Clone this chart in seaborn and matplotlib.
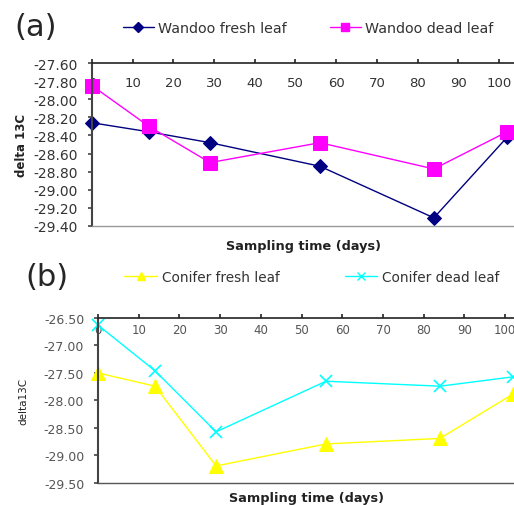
#!/usr/bin/env python3
# delta13c_panels.py

import logging
import os
os.environ.setdefault("MPLCONFIGDIR", "/tmp/.config/matplotlib")
os.makedirs(os.environ["MPLCONFIGDIR"], exist_ok=True)
import matplotlib

matplotlib.use("Agg")
logging.getLogger("matplotlib.font_manager").setLevel(logging.ERROR)

import matplotlib.pyplot as plt
import seaborn as sns
from matplotlib.lines import Line2D
from matplotlib.ticker import FormatStrFormatter, MultipleLocator

sns.set_theme(style="white")
plt.rcParams["font.family"] = ["DejaVu Sans"]

# sampling days
days = [0, 14, 29, 56, 84, 102]

# (a) wandoo
wandoo_fresh = [-28.26, -28.36, -28.48, -28.74, -29.31, -28.42]
wandoo_dead = [-27.85, -28.30, -28.70, -28.48, -28.77, -28.36]

# (b) conifer
conifer_fresh = [-27.50, -27.74, -29.19, -28.79, -28.69, -27.88]
conifer_dead = [-26.63, -27.46, -28.57, -27.65, -27.74, -27.57]


def style_axis(ax, ylim, ystep, xmax, tick_color, xpad, xsize, ysize, ypad):
    ax.set_xlim(0, xmax)
    ax.set_ylim(*ylim)
    ax.yaxis.set_major_locator(MultipleLocator(ystep))
    ax.yaxis.set_major_formatter(FormatStrFormatter("%.2f"))
    ax.set_xticks(range(0, 101, 10))
    ax.xaxis.set_ticks_position("top")
    ax.tick_params(axis="x", direction="out", length=3, width=1.2, color="#222222",
                   top=True, bottom=False, labeltop=True, labelbottom=False,
                   pad=xpad, labelsize=xsize, labelcolor=tick_color)
    ax.tick_params(axis="y", direction="out", length=3, width=1.2, color="#444444",
                   left=True, labelsize=ysize, labelcolor=tick_color, pad=ypad)
    ax.spines["right"].set_visible(False)
    ax.spines["left"].set_color("#444444")
    ax.spines["left"].set_linewidth(1.5)
    ax.spines["top"].set_color("#222222")
    ax.spines["top"].set_linewidth(1.2)
    ax.spines["bottom"].set_color("#999999")
    ax.spines["bottom"].set_linewidth(1)
    ax.grid(False)
    ax.set_facecolor("white")
    ax.set_xlabel("")


fig = plt.figure(figsize=(5.14, 5.06), dpi=100)

# ---- panel (a)
ax1 = fig.add_axes([0.179, 0.5514, 0.821, 0.3221])
sns.lineplot(x=days, y=wandoo_fresh, ax=ax1, color="#000080", lw=1, marker="D",
             markersize=7, markeredgecolor="#000080", clip_on=False)
sns.lineplot(x=days, y=wandoo_dead, ax=ax1, color="#FF00FF", lw=1, marker="s",
             markersize=10, markeredgecolor="#FF00FF", clip_on=False)
style_axis(ax1, (-29.40, -27.60), 0.2, 103.7, "#333333", -22, 9.5, 10, 7)
ax1.set_ylabel("delta 13C", fontsize=8.5, fontweight="bold", color="#222222")
ax1.yaxis.set_label_coords(-0.152, 0.5)
ax1.text(0.5, -0.117, "Sampling time (days)", transform=ax1.transAxes,
         ha="center", va="center", fontsize=9.3, fontweight="bold", color="#222222")

handles_a = [
    Line2D([], [], color="#000080", lw=1, marker="D", markersize=5),
    Line2D([], [], color="#FF00FF", lw=1, marker="s", markersize=6),
]
fig.legend(handles_a, ["Wandoo fresh leaf", "Wandoo dead leaf"], loc="center left",
           bbox_to_anchor=(0.214, 0.943), ncol=2, frameon=False, fontsize=10.3,
           handlelength=2.15, handletextpad=0.33, columnspacing=3.0,
           labelcolor="#333333")
fig.text(0.028, 0.945, "(a)", fontsize=22, ha="left", va="center")

# ---- panel (b)
ax2 = fig.add_axes([0.1907, 0.0435, 0.8093, 0.3261])
sns.lineplot(x=days, y=conifer_fresh, ax=ax2, color="#FFFF00", lw=1, marker="^",
             markersize=10, markeredgecolor="#FFFF00", clip_on=False)
sns.lineplot(x=days, y=conifer_dead, ax=ax2, color="#00FFFF", lw=1, marker="x",
             markersize=9, markeredgewidth=1.2, markeredgecolor="#00FFFF",
             clip_on=False)
style_axis(ax2, (-29.50, -26.50), 0.5, 102.2, "#555555", -16, 8.5, 9, 7)
ax2.set_ylabel("delta13C", fontsize=7.5, color="#222222")
ax2.yaxis.set_label_coords(-0.168, 0.5)
ax2.spines["bottom"].set_color("#555555")
ax2.text(0.5, -0.085, "Sampling time (days)", transform=ax2.transAxes,
         ha="center", va="center", fontsize=9.3, fontweight="bold", color="#222222")

handles_b = [
    Line2D([], [], color="#FFFF00", lw=1, marker="^", markersize=6),
    Line2D([], [], color="#00FFFF", lw=1, marker="x", markersize=6),
]
fig.legend(handles_b, ["Conifer fresh leaf", "Conifer dead leaf"], loc="center left",
           bbox_to_anchor=(0.218, 0.451), ncol=2, frameon=False, fontsize=9.8,
           handlelength=2.4, handletextpad=0.35, columnspacing=4.8,
           labelcolor="#333333")
fig.text(0.05, 0.452, "(b)", fontsize=22, ha="left", va="center")

fig.savefig("out.png", dpi=100, facecolor="white")
plt.close(fig)
